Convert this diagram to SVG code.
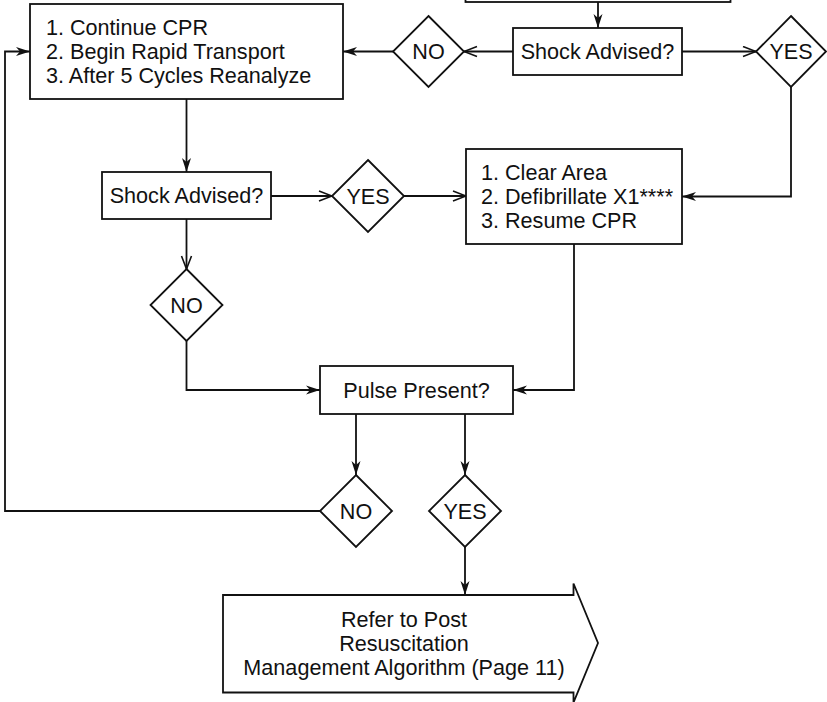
<svg xmlns="http://www.w3.org/2000/svg" width="827" height="702" viewBox="0 0 827 702">
<defs>
<style>
.n{fill:#fff;stroke:#111;stroke-width:1.8}
.t{font-family:"Liberation Sans",Arial,sans-serif;font-size:21.6px;fill:#111}
.c{text-anchor:middle}
.e{fill:none;stroke:#111;stroke-width:1.8}
.f{marker-end:url(#af)}
.o{marker-end:url(#ao)}
</style>
<marker id="af" markerUnits="userSpaceOnUse" markerWidth="16" markerHeight="12" refX="14" refY="5" orient="auto">
<path d="M0,0.5 L14,5 L0,9.5 L4,5 Z" fill="#111"/>
</marker>
<marker id="ao" markerUnits="userSpaceOnUse" markerWidth="16" markerHeight="14" refX="14" refY="6" orient="auto">
<path d="M1,1 L14,6 L1,11" fill="none" stroke="#111" stroke-width="1.6"/>
</marker>
</defs>
<rect width="827" height="702" fill="#fff"/>
<g id="connectors">
<path class="e f" d="M598,2 V28"/>
<path class="e o" d="M513,51.5 H464"/>
<path class="e o" d="M682,51.5 H756"/>
<path class="e f" d="M393,51.5 H343"/>
<path class="e f" d="M791,87 V196.5 H682"/>
<path class="e f" d="M186.5,99 V172"/>
<path class="e o" d="M271,196 H332"/>
<path class="e o" d="M404,196 H466"/>
<path class="e o" d="M186.5,219 V269"/>
<path class="e f" d="M186.5,341 V390 H320"/>
<path class="e f" d="M574,244 V390 H513"/>
<path class="e f" d="M356,414 V475"/>
<path class="e f" d="M465,414 V475"/>
<path class="e f" d="M320,511 H5 V51.5 H30"/>
<path class="e f" d="M465,547 V595"/>
</g>
<g id="topbox"><rect class="n" x="465.5" y="-30" width="265" height="32"/></g>
<g id="box1">
<rect class="n" x="30" y="4" width="313" height="95"/>
<text class="t" x="46" y="35">1. Continue CPR</text>
<text class="t" x="46" y="59">2. Begin Rapid Transport</text>
<text class="t" x="46" y="83">3. After 5 Cycles Reanalyze</text>
</g>
<g id="shock1">
<rect class="n" x="513" y="28" width="169" height="47"/>
<text class="t c" x="597.5" y="59">Shock Advised?</text>
</g>
<g id="no1">
<polygon class="n" points="428.5,16 464,51.5 428.5,87 393,51.5"/>
<text class="t c" x="428.5" y="59">NO</text>
</g>
<g id="yes1">
<polygon class="n" points="791,16 826,51.5 791,87 756,51.5"/>
<text class="t c" x="791" y="59">YES</text>
</g>
<g id="shock2">
<rect class="n" x="102" y="172" width="169" height="47"/>
<text class="t c" x="186.5" y="203">Shock Advised?</text>
</g>
<g id="yes2">
<polygon class="n" points="368,160 404,196 368,232 332,196"/>
<text class="t c" x="368" y="203.5">YES</text>
</g>
<g id="clear">
<rect class="n" x="466" y="149" width="216" height="95"/>
<text class="t" x="481" y="180">1. Clear Area</text>
<text class="t" x="481" y="204">2. Defibrillate X1****</text>
<text class="t" x="481" y="228">3. Resume CPR</text>
</g>
<g id="no2">
<polygon class="n" points="186.5,269 222.5,305 186.5,341 150.5,305"/>
<text class="t c" x="186.5" y="312.5">NO</text>
</g>
<g id="pulse">
<rect class="n" x="320" y="366" width="193" height="48"/>
<text class="t c" x="416.5" y="397.5">Pulse Present?</text>
</g>
<g id="no3">
<polygon class="n" points="356,475 392,511 356,547 320,511"/>
<text class="t c" x="356" y="518.5">NO</text>
</g>
<g id="yes3">
<polygon class="n" points="465,475 501,511 465,547 429,511"/>
<text class="t c" x="465" y="518.5">YES</text>
</g>
<g id="post">
<polygon class="n" points="223,595 573.5,595 573.5,583.5 598,643 573.5,702.5 573.5,692.5 223,692.5"/>
<text class="t c" x="404" y="627">Refer to Post</text>
<text class="t c" x="404" y="651">Resuscitation</text>
<text class="t c" x="404" y="675">Management Algorithm (Page 11)</text>
</g>
</svg>
